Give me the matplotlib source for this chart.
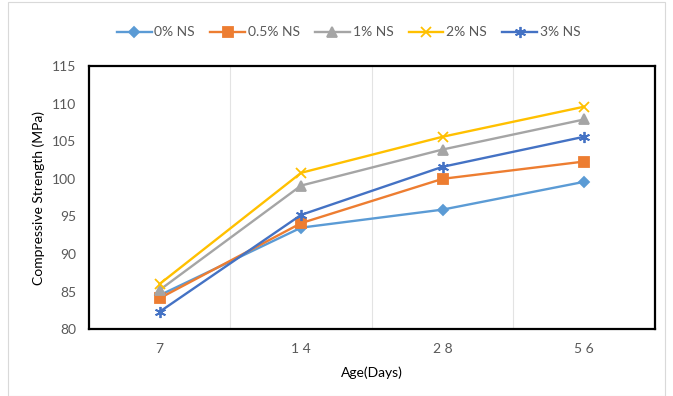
import matplotlib.pyplot as plt
import numpy as np
from matplotlib.patches import Rectangle

# Resistencia a compressao por idade e teor de nano silica
ages = ["7", "14", "28", "56"]
age_ticks = ["7", "1 4", "2 8", "5 6"]
ns_0 = [84.5, 93.5, 95.9, 99.6]
ns_05 = [84.1, 94.1, 100.0, 102.3]
ns_1 = [85.2, 99.1, 103.9, 107.9]
ns_2 = [86.0, 100.8, 105.6, 109.6]
ns_3 = [82.3, 95.2, 101.6, 105.6]

series = [
    ("0% NS", ns_0, "#5B9BD5", "D", 5),
    ("0.5% NS", ns_05, "#ED7D31", "s", 7),
    ("1% NS", ns_1, "#A5A5A5", "^", 7),
    ("2% NS", ns_2, "#FFC000", "x", 7),
    ("3% NS", ns_3, "#4472C4", (6, 2, 0), 8),
]

plt.rcParams['font.family'] = ['Lato', 'DejaVu Sans']

fig = plt.figure(figsize=(6.73, 3.96), dpi=100)
ax = fig.add_axes([0.132, 0.169, 0.841, 0.664])

x = np.arange(len(ages))
for nome, vals, cor, mk, ms in series:
    ax.plot(x, vals, color=cor, marker=mk, markersize=ms, linewidth=1.7,
            markeredgewidth=1.3, label=nome)

ax.set_xlim(-0.5, len(ages) - 0.5)
ax.set_ylim(80, 115)
ax.set_yticks(np.arange(80, 116, 5))
ax.set_xticks(x)
ax.set_xticklabels(age_ticks)

# linhas de grade entre as categorias
for b in np.arange(0.5, len(ages) - 1, 1.0):
    ax.axvline(b, color="#E3E3E3", linewidth=0.8, zorder=0)

for s in ax.spines.values():
    s.set_color("black")
    s.set_linewidth(1.6)

ax.tick_params(axis="both", length=0, labelsize=10, colors="#595959", pad=10)
ax.tick_params(axis="y", pad=9)
ax.set_xlabel("Age(Days)", fontsize=10, color="black", labelpad=8)
ax.set_ylabel("Compressive Strength (MPa)", fontsize=10, color="black", labelpad=5)

fig.legend(loc="center", bbox_to_anchor=(0.518, 0.918), ncol=5, frameon=False,
           fontsize=10, handlelength=2.5, columnspacing=1.1, handletextpad=0.2,
           labelcolor="#595959")

# borda da area do grafico
fig.patches.append(Rectangle((0.012, 0.0), 0.976, 0.995, transform=fig.transFigure,
                             fill=False, edgecolor="#D9D9D9", linewidth=0.8))

fig.savefig("out.png", dpi=100)
